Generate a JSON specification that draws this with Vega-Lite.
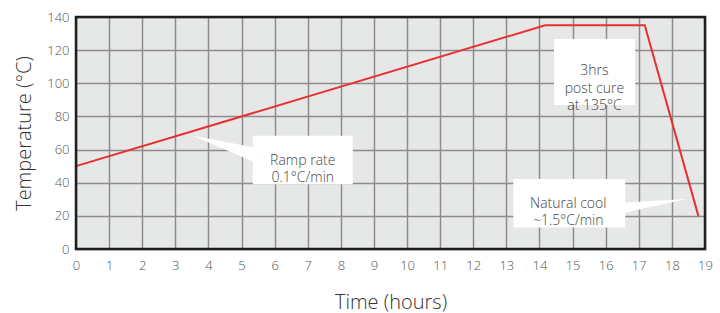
{
  "$schema": "https://vega.github.io/schema/vega-lite/v6.json",
  "width": 629,
  "height": 232,
  "autosize": "none",
  "padding": {"left": 76, "top": 17, "right": 15, "bottom": 64},
  "background": "white",
  "config": {
    "view": {"fill": "#e6e7e7", "stroke": null},
    "font": "Open Sans",
    "axis": {
      "gridColor": "#8c8c8c",
      "gridWidth": 1.5,
      "gridOpacity": 1,
      "domain": false,
      "ticks": false,
      "labelFont": "Open Sans",
      "labelFontSize": 13,
      "labelColor": "#555555",
      "labelFontWeight": 300,
      "titleFont": "Open Sans",
      "titleFontSize": 20,
      "titleFontWeight": 300,
      "titleColor": "#333333"
    }
  },
  "datasets": {
    "profile": [
      {"x": 0, "y": 50},
      {"x": 14.17, "y": 135},
      {"x": 17.18, "y": 135},
      {"x": 18.8, "y": 20}
    ],
    "boxes": [
      {"x": 14.44, "x2": 16.89, "y": 86.9, "y2": 126.7},
      {"x": 5.34, "x2": 8.36, "y": 39.1, "y2": 68.4},
      {"x": 13.21, "x2": 16.59, "y": 12.9, "y2": 42.2}
    ],
    "pointers": [
      {"id": "ramp", "x": 3.53, "y": 68.3, "y2": 68.3},
      {"id": "ramp", "x": 5.4, "y": 61.2, "y2": 52.4},
      {"id": "cool", "x": 16.5, "y": 27.9, "y2": 21.5},
      {"id": "cool", "x": 18.45, "y": 30.2, "y2": 30.2}
    ],
    "labels": [
      {"x": 15.66, "y": 107.4, "label": "3hrs\npost cure\nat 135°C"},
      {"x": 6.85, "y": 53.2, "label": "Ramp rate\n0.1°C/min"},
      {"x": 14.87, "y": 27.3, "label": "Natural cool\n~1.5°C/min"}
    ],
    "frame": [
      {"x": 0, "x2": 19, "y": 0, "y2": 140}
    ]
  },
  "encoding": {
    "x": {"field": "x", "type": "quantitative",
          "scale": {"domain": [0, 19], "nice": false, "zero": false},
          "axis": {"values": [0,1,2,3,4,5,6,7,8,9,10,11,12,13,14,15,16,17,18,19], "format": "d", "grid": true, "labelOverlap": false, "labelFlush": false, "labelBound": false, "tickCount": 50, "labelPadding": 10, "titlePadding": 20, "title": "Time (hours)"}},
    "y": {"field": "y", "type": "quantitative",
          "scale": {"domain": [0, 140], "nice": false, "zero": false},
          "axis": {"values": [0,20,40,60,80,100,120,140], "format": "d", "grid": true, "labelOverlap": false, "labelFlush": false, "labelBound": false, "tickCount": 50, "labelPadding": 7, "titlePadding": 12, "title": "Temperature (°C)"}}
  },
  "layer": [
    {
      "data": {"name": "pointers"},
      "mark": {"type": "area", "color": "white", "opacity": 1},
      "encoding": {
        "y2": {"field": "y2"},
        "detail": {"field": "id"}
      }
    },
    {
      "data": {"name": "boxes"},
      "mark": {"type": "rect", "color": "white"},
      "encoding": {
        "x2": {"field": "x2"},
        "y2": {"field": "y2"}
      }
    },
    {
      "data": {"name": "profile"},
      "mark": {"type": "line", "color": "#e8302e", "strokeWidth": 2},
      "encoding": {}
    },
    {
      "data": {"name": "labels"},
      "mark": {"type": "text", "lineBreak": "\n", "fontSize": 14, "fontWeight": 300, "color": "#444444", "align": "center", "baseline": "middle", "lineHeight": 17.5, "font": "Open Sans"},
      "encoding": {
        "text": {"field": "label"}
      }
    },
    {
      "data": {"name": "frame"},
      "mark": {"type": "rect", "fill": null, "fillOpacity": 0, "stroke": "#1e1e1e", "strokeWidth": 2.5},
      "encoding": {
        "x2": {"field": "x2"},
        "y2": {"field": "y2"}
      }
    }
  ]
}
